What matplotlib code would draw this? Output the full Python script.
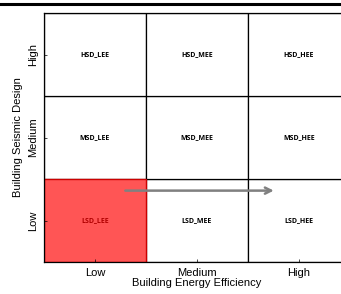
import matplotlib.pyplot as plt
from matplotlib.patches import Rectangle
from matplotlib.lines import Line2D

plt.rcParams['font.family'] = ['Liberation Sans', 'DejaVu Sans']

efficiency = ["Low", "Medium", "High"]
seismic = ["Low", "Medium", "High"]
row_codes = ["LSD", "MSD", "HSD"]
col_codes = ["LEE", "MEE", "HEE"]
highlight = (0, 0)  # (col, row)
arrow_from = (0.77, 0.86)
arrow_to = (2.28, 0.86)

fig = plt.figure(figsize=(3.41, 2.94), dpi=100)
ax = fig.add_axes([44/341, 32/294, 306/341, 249/294])

for r, rc in enumerate(row_codes):
    for c, cc in enumerate(col_codes):
        if (c, r) == highlight:
            ax.add_patch(Rectangle((c, r), 1, 1, facecolor="#ff5555",
                                   edgecolor="#cc0000", lw=1.0, zorder=1))
            color = "#b00000"
        else:
            ax.add_patch(Rectangle((c, r), 1, 1, facecolor="white",
                                   edgecolor="black", lw=0.9, zorder=0))
            color = "black"
        ax.text(c + 0.5, r + 0.5, rc + "_" + cc, ha="center", va="center",
                fontsize=5, fontweight="bold", color=color, zorder=3,
                family=["Open Sans", "DejaVu Sans"])

ax.annotate("", xy=arrow_to, xytext=arrow_from,
            arrowprops=dict(arrowstyle="->", color="#808080", lw=1.8,
                            mutation_scale=11), zorder=4)

ax.set_xlim(0, 3)
ax.set_ylim(0, 3)
ax.set_xticks([0.5, 1.5, 2.5])
ax.set_xticklabels(efficiency, fontsize=8)
ax.set_yticks([0.5, 1.5, 2.5])
ax.set_yticklabels(seismic, fontsize=8, rotation=90, va="center")
ax.tick_params(direction="in", length=2, width=0.5, pad=4)
ax.set_xlabel("Building Energy Efficiency", fontsize=8, labelpad=0)
ax.set_ylabel("Building Seismic Design", fontsize=8, labelpad=4)
for s in ax.spines.values():
    s.set_linewidth(0.9)

fig.add_artist(Line2D([0, 1], [1 - 4/294, 1 - 4/294], color="black", lw=2.2,
                      transform=fig.transFigure))

fig.savefig("out.png", dpi=100)
